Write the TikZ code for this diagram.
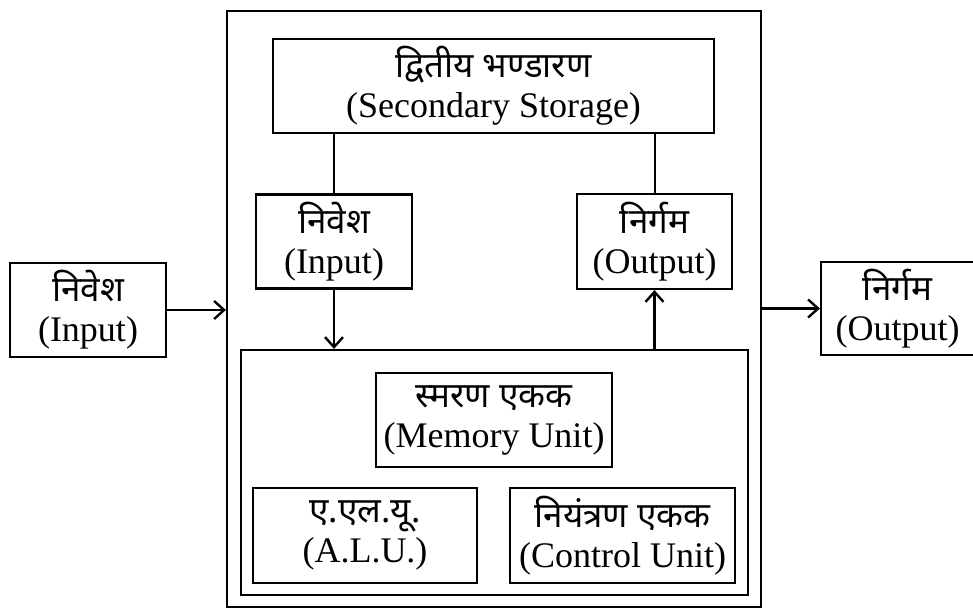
\documentclass[tikz,border=0pt]{standalone}
\usepackage{fontspec}
\setmainfont{Liberation Serif}
\newfontfamily\deva[Script=Devanagari]{Noto Sans}
\usetikzlibrary{arrows.meta}

% two-line label: Hindi term above, English term below
\newcommand\bilabel[2]{{\deva\fontsize{35}{40}\selectfont #1}\\#2}

\begin{document}
\begin{tikzpicture}[x=1pt,y=-1pt,
  box/.style={draw, line width=2.2pt, inner sep=0pt, align=center,
    font=\fontsize{36}{40}\selectfont},
  frame/.style={draw, line width=2.2pt, inner sep=0pt},
  link/.style={line width=2pt},
  arr/.style={line width=2.2pt,
    -{Straight Barb[length=10pt,width=18pt,line width=2.4pt]}}]
\useasboundingbox (0,0) rectangle (973,610);

% outer computer frame and CPU frame
\node[frame, minimum width=534pt, minimum height=596pt] (outer) at (494,309) {};
\node[frame, minimum width=507pt, minimum height=245pt] (cpu) at (494.5,472.5) {};

% boxes
\node[box, minimum width=441pt, minimum height=94pt] (ss) at (493.5,86)
  {\bilabel{द्वितीय भण्डारण}{(Secondary Storage)}};
\node[box, minimum width=156pt, minimum height=94pt] (inin) at (334,241.5)
  {\bilabel{निवेश}{(Input)}};
\node[box, minimum width=155pt, minimum height=95pt] (inout) at (654.5,241.5)
  {\bilabel{निर्गम}{(Output)}};
\node[box, minimum width=236pt, minimum height=94pt] (mem) at (494,420)
  {\bilabel{स्मरण एकक}{(Memory Unit)}};
\node[box, minimum width=224pt, minimum height=95pt] (alu) at (365,535.5)
  {\bilabel{ए.एल.यू.}{(A.L.U.)}};
\node[box, minimum width=225pt, minimum height=95pt] (cu) at (622.5,535.5)
  {\bilabel{नियंत्रण एकक}{(Control Unit)}};
\node[box, minimum width=156pt, minimum height=94pt] (extin) at (88,310)
  {\bilabel{निवेश}{(Input)}};
\node[box, minimum width=153pt, minimum height=93pt] (extout) at (897.5,308.5)
  {\bilabel{निर्गम}{(Output)}};

% connectors
\draw[link] (ss.south -| inin.north) -- (inin.north);
\draw[link] (ss.south -| inout.north) -- (inout.north);
\draw[arr] (inin.south) -- (inin.south |- cpu.north);
\draw[arr] (inout.south |- cpu.north) -- (inout.south);
\draw[arr] (extin.east) -- (extin.east -| outer.west);
\draw[arr] (extout.west -| outer.east) -- (extout.west);
\end{tikzpicture}
\end{document}
